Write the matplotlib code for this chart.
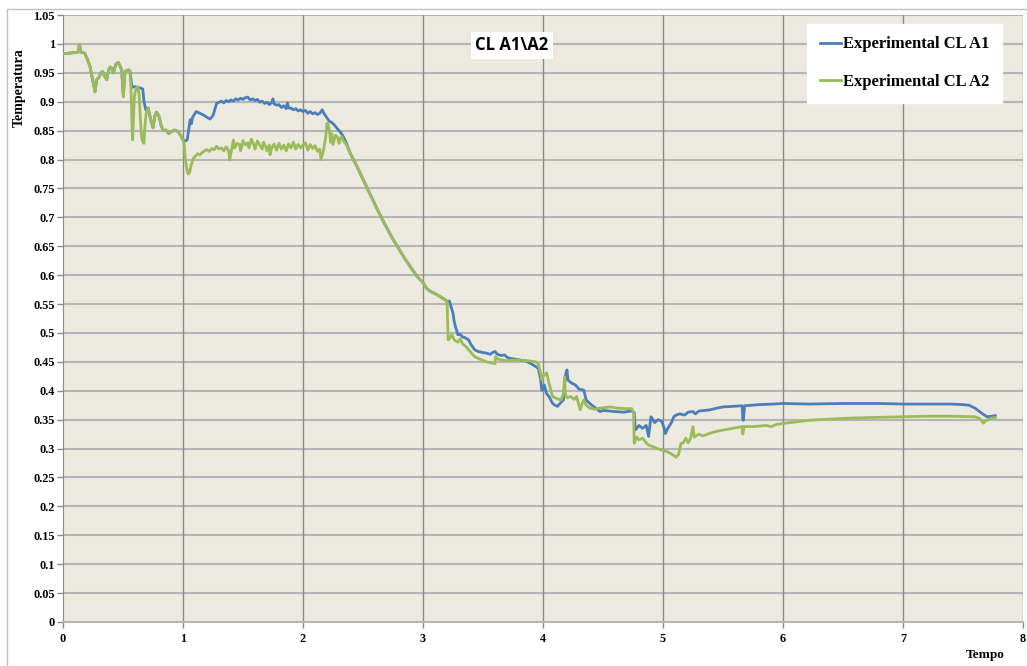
import matplotlib
matplotlib.use("Agg")
import matplotlib.pyplot as plt
from matplotlib.patches import Rectangle

# ---------------- data ----------------
shared_start = [
    (0.0, 0.983), (0.05, 0.984), (0.1, 0.985), (0.128, 0.986), (0.135, 0.998), (0.14, 0.998),
    (0.145, 0.986), (0.18, 0.984), (0.2, 0.975), (0.225, 0.961), (0.25, 0.935), (0.267, 0.917),
    (0.28, 0.938), (0.3, 0.942), (0.315, 0.950), (0.33, 0.952), (0.345, 0.945), (0.364, 0.938),
    (0.38, 0.955), (0.395, 0.960), (0.405, 0.958), (0.42, 0.950), (0.44, 0.965), (0.461, 0.968),
    (0.475, 0.962), (0.489, 0.955), (0.495, 0.935), (0.503, 0.909), (0.51, 0.935), (0.517, 0.952),
    (0.53, 0.954), (0.545, 0.955), (0.558, 0.953),
]

blue_early = [
    (0.575, 0.925), (0.6, 0.926), (0.64, 0.924), (0.665, 0.922), (0.675, 0.90), (0.69, 0.886),
]

shared_mid = [
    (0.71, 0.889), (0.73, 0.87), (0.75, 0.855), (0.765, 0.875), (0.78, 0.882), (0.8, 0.875),
    (0.82, 0.857), (0.84, 0.85), (0.86, 0.851), (0.88, 0.845), (0.9, 0.848), (0.93, 0.851),
    (0.96, 0.848), (0.98, 0.842), (1.0, 0.834),
]

green_early = [
    (0.567, 0.92), (0.575, 0.86), (0.58, 0.834), (0.585, 0.86), (0.595, 0.91), (0.61, 0.924),
    (0.625, 0.925), (0.635, 0.91), (0.645, 0.87), (0.655, 0.84), (0.665, 0.83), (0.675, 0.828),
    (0.68, 0.85), (0.69, 0.875), (0.7, 0.886),
]

blue_plateau = [
    (1.02, 0.832), (1.035, 0.834), (1.05, 0.855), (1.06, 0.869), (1.07, 0.862), (1.08, 0.873),
    (1.11, 0.883), (1.14, 0.880), (1.17, 0.877), (1.2, 0.873), (1.225, 0.870), (1.25, 0.876),
    (1.28, 0.897), (1.3, 0.899), (1.32, 0.901), (1.34, 0.898), (1.36, 0.902), (1.38, 0.900),
    (1.4, 0.903), (1.42, 0.901), (1.44, 0.905), (1.46, 0.903), (1.48, 0.906), (1.5, 0.904),
    (1.52, 0.907), (1.54, 0.908), (1.56, 0.903), (1.58, 0.905), (1.6, 0.902), (1.62, 0.904),
    (1.64, 0.899), (1.66, 0.901), (1.68, 0.897), (1.7, 0.899), (1.72, 0.895), (1.74, 0.899),
    (1.75, 0.905), (1.76, 0.896), (1.78, 0.894), (1.8, 0.895), (1.82, 0.890), (1.84, 0.893),
    (1.86, 0.888), (1.87, 0.898), (1.88, 0.889), (1.9, 0.889), (1.92, 0.886), (1.94, 0.888),
    (1.96, 0.884), (1.98, 0.886), (2.0, 0.883), (2.02, 0.885), (2.04, 0.880), (2.06, 0.883),
    (2.08, 0.879), (2.1, 0.881), (2.12, 0.878), (2.14, 0.880), (2.16, 0.886), (2.18, 0.878),
    (2.2, 0.872), (2.22, 0.866), (2.24, 0.864), (2.26, 0.860), (2.28, 0.855), (2.3, 0.850),
    (2.32, 0.845), (2.34, 0.838), (2.36, 0.829), (2.38, 0.818),
]

green_plateau = [
    (1.01, 0.825), (1.02, 0.80), (1.035, 0.78), (1.044, 0.775), (1.055, 0.778), (1.07, 0.792),
    (1.086, 0.802), (1.1, 0.805), (1.12, 0.81), (1.14, 0.808), (1.16, 0.812), (1.18, 0.815),
    (1.2, 0.817), (1.22, 0.814), (1.24, 0.819), (1.26, 0.817), (1.28, 0.823), (1.3, 0.818),
    (1.32, 0.82), (1.34, 0.815), (1.36, 0.822), (1.38, 0.815), (1.39, 0.799), (1.4, 0.812),
    (1.42, 0.834), (1.43, 0.82), (1.45, 0.828), (1.47, 0.826), (1.48, 0.815), (1.5, 0.833),
    (1.52, 0.825), (1.54, 0.829), (1.55, 0.82), (1.57, 0.835), (1.59, 0.826), (1.6, 0.818),
    (1.62, 0.832), (1.64, 0.825), (1.66, 0.818), (1.67, 0.83), (1.69, 0.822), (1.7, 0.815),
    (1.72, 0.825), (1.725, 0.808), (1.74, 0.82), (1.76, 0.827), (1.78, 0.816), (1.8, 0.828),
    (1.82, 0.818), (1.84, 0.825), (1.86, 0.815), (1.88, 0.827), (1.9, 0.82), (1.92, 0.83),
    (1.94, 0.818), (1.96, 0.826), (1.98, 0.82), (2.0, 0.825), (2.02, 0.829), (2.04, 0.816),
    (2.06, 0.826), (2.08, 0.819), (2.1, 0.824), (2.12, 0.814), (2.14, 0.818), (2.15, 0.80),
    (2.17, 0.815), (2.19, 0.84), (2.2, 0.863), (2.21, 0.86), (2.22, 0.85), (2.23, 0.83),
    (2.24, 0.845), (2.25, 0.826), (2.27, 0.842), (2.29, 0.838), (2.3, 0.828), (2.32, 0.84),
    (2.34, 0.832), (2.36, 0.826), (2.38, 0.818),
]

shared_descent = [
    (2.4, 0.808), (2.45, 0.788), (2.5, 0.766), (2.55, 0.744), (2.6, 0.722), (2.65, 0.701),
    (2.7, 0.681), (2.75, 0.662), (2.8, 0.645), (2.85, 0.628), (2.9, 0.613), (2.95, 0.598),
    (3.0, 0.587), (3.03, 0.577), (3.06, 0.572), (3.1, 0.568), (3.15, 0.562), (3.2, 0.555),
]

blue_late = [
    (3.22, 0.555), (3.23, 0.548), (3.25, 0.534), (3.26, 0.52), (3.27, 0.511), (3.28, 0.505),
    (3.29, 0.497), (3.31, 0.498), (3.33, 0.493), (3.35, 0.492), (3.38, 0.488), (3.4, 0.48),
    (3.43, 0.471), (3.46, 0.468), (3.5, 0.466), (3.53, 0.465), (3.56, 0.463), (3.58, 0.466),
    (3.6, 0.468), (3.62, 0.463), (3.65, 0.461), (3.68, 0.462), (3.7, 0.458), (3.725, 0.456),
    (3.76, 0.455), (3.81, 0.453), (3.85, 0.452), (3.89, 0.448), (3.93, 0.443), (3.96, 0.439),
    (3.98, 0.42), (3.99, 0.401), (4.01, 0.41), (4.03, 0.395), (4.05, 0.39), (4.08, 0.378),
    (4.1, 0.375), (4.12, 0.373), (4.15, 0.38), (4.17, 0.384), (4.18, 0.41), (4.19, 0.43),
    (4.2, 0.436), (4.205, 0.425), (4.21, 0.418), (4.24, 0.413), (4.27, 0.41), (4.3, 0.403),
    (4.34, 0.401), (4.36, 0.384), (4.39, 0.378), (4.42, 0.373), (4.45, 0.368), (4.475, 0.364),
    (4.5, 0.366), (4.55, 0.365), (4.6, 0.364), (4.67, 0.363), (4.74, 0.365), (4.76, 0.362),
    (4.77, 0.332), (4.8, 0.34), (4.83, 0.335), (4.86, 0.34), (4.88, 0.321), (4.9, 0.355),
    (4.91, 0.352), (4.93, 0.345), (4.96, 0.35), (4.99, 0.347), (5.01, 0.335), (5.02, 0.326),
    (5.04, 0.335), (5.07, 0.345), (5.09, 0.355), (5.11, 0.358), (5.14, 0.36), (5.18, 0.358),
    (5.21, 0.363), (5.25, 0.364), (5.27, 0.36), (5.3, 0.365), (5.35, 0.366), (5.39, 0.367),
    (5.45, 0.370), (5.5, 0.372), (5.58, 0.373), (5.66, 0.374), (5.665, 0.35), (5.67, 0.349),
    (5.68, 0.374), (5.8, 0.376), (5.92, 0.377), (6.0, 0.378), (6.22, 0.377), (6.5, 0.378),
    (6.8, 0.378), (7.0, 0.377), (7.2, 0.377), (7.4, 0.377), (7.5, 0.376), (7.55, 0.375),
    (7.6, 0.370), (7.65, 0.362), (7.7, 0.355), (7.74, 0.356), (7.77, 0.357),
]

green_late = [
    (3.205, 0.52), (3.21, 0.488), (3.22, 0.49), (3.24, 0.497), (3.26, 0.488), (3.29, 0.484),
    (3.31, 0.49), (3.33, 0.481), (3.36, 0.476), (3.4, 0.466), (3.43, 0.459), (3.47, 0.455),
    (3.53, 0.450), (3.57, 0.448), (3.6, 0.447), (3.605, 0.459), (3.62, 0.455), (3.66, 0.453),
    (3.7, 0.452), (3.75, 0.453), (3.81, 0.453), (3.87, 0.452), (3.94, 0.450), (3.96, 0.447),
    (3.98, 0.43), (3.99, 0.419), (4.0, 0.425), (4.03, 0.431), (4.05, 0.413), (4.08, 0.39),
    (4.12, 0.386), (4.15, 0.384), (4.17, 0.395), (4.18, 0.424), (4.185, 0.395), (4.2, 0.388),
    (4.23, 0.39), (4.26, 0.385), (4.28, 0.39), (4.31, 0.367), (4.33, 0.38), (4.34, 0.384),
    (4.36, 0.375), (4.39, 0.37), (4.43, 0.368), (4.475, 0.37), (4.52, 0.371), (4.56, 0.372),
    (4.62, 0.370), (4.7, 0.369), (4.74, 0.369), (4.755, 0.36), (4.76, 0.309), (4.78, 0.32),
    (4.8, 0.315), (4.83, 0.318), (4.86, 0.310), (4.88, 0.306), (4.92, 0.303), (4.95, 0.300),
    (4.98, 0.298), (5.03, 0.295), (5.06, 0.292), (5.09, 0.288), (5.11, 0.285), (5.13, 0.29),
    (5.15, 0.309), (5.17, 0.31), (5.19, 0.318), (5.21, 0.31), (5.23, 0.318), (5.25, 0.338),
    (5.26, 0.32), (5.3, 0.325), (5.33, 0.322), (5.36, 0.324), (5.4, 0.327), (5.45, 0.33),
    (5.5, 0.332), (5.58, 0.335), (5.66, 0.338), (5.665, 0.325), (5.675, 0.338), (5.75, 0.338),
    (5.86, 0.34), (5.9, 0.338), (5.95, 0.342), (6.06, 0.345), (6.22, 0.349), (6.4, 0.351),
    (6.6, 0.353), (6.8, 0.354), (7.0, 0.355), (7.2, 0.356), (7.4, 0.356), (7.6, 0.355),
    (7.64, 0.352), (7.67, 0.344), (7.69, 0.348), (7.73, 0.352), (7.77, 0.354),
]

series_a1 = shared_start + blue_early + shared_mid + blue_plateau + shared_descent + blue_late
series_a2 = shared_start + green_early + shared_mid + green_plateau + shared_descent + green_late

t_a1 = [p[0] for p in series_a1]
y_a1 = [p[1] for p in series_a1]
t_a2 = [p[0] for p in series_a2]
y_a2 = [p[1] for p in series_a2]

label_a1 = "Experimental CL A1"
label_a2 = "Experimental CL A2"
title_text = "CL A1\\A2"
x_ticks = [0, 1, 2, 3, 4, 5, 6, 7, 8]
y_ticks = [round(0.05 * i, 2) for i in range(22)]
y_tick_labels = ["0", "0.05", "0.1", "0.15", "0.2", "0.25", "0.3", "0.35", "0.4", "0.45", "0.5",
                 "0.55", "0.6", "0.65", "0.7", "0.75", "0.8", "0.85", "0.9", "0.95", "1", "1.05"]

# ---------------- figure ----------------
W, H = 1027, 666
fig = plt.figure(figsize=(W / 100, H / 100), dpi=100)
fig.patch.set_facecolor("white")

# outer chart frame
fig.add_artist(Rectangle((7 / W, -0.02), 1.05, 1 - 9 / H + 0.02, transform=fig.transFigure,
                         fill=False, edgecolor="#c0c0c0", linewidth=1.0))

ax = fig.add_axes([63 / W, 1 - 622 / H, (1023 - 63) / W, (622 - 15) / H])
ax.set_facecolor("#ece9df")

ax.set_xlim(0, 8)
ax.set_ylim(0, 1.05)
ax.set_xticks(x_ticks)
ax.set_xticklabels([str(v) for v in x_ticks])
ax.set_yticks(y_ticks)
ax.set_yticklabels(y_tick_labels)

for yv in y_ticks[1:]:
    ax.axhline(yv, color="#b5b5b5", linewidth=1.5, zorder=1)
for xv in x_ticks[1:]:
    ax.axvline(xv, color="#8a8a8a", linewidth=1.0, zorder=1)

for s in ["top", "right"]:
    ax.spines[s].set_visible(False)
ax.spines["left"].set_color("#8a8a8a")
ax.spines["bottom"].set_color("#b5b5b5")
ax.spines["bottom"].set_linewidth(1.5)

ax.tick_params(axis="both", colors="#8a8a8a", length=4, width=1, labelcolor="black")
ax.tick_params(axis="x", pad=4)
ax.tick_params(axis="y", pad=2)

for lbl in ax.get_xticklabels() + ax.get_yticklabels():
    lbl.set_fontfamily("Liberation Serif")
    lbl.set_fontweight("bold")
    lbl.set_fontsize(8.8)

ax.plot(t_a1, y_a1, color="#4a7ebb", linewidth=2.0, label=label_a1, zorder=3,
        solid_joinstyle="round")
ax.plot(t_a2, y_a2, color="#9bbb59", linewidth=2.0, label=label_a2, zorder=4,
        solid_joinstyle="round")

fig.text(19 / W, 1 - 88 / H, "Temperatura", rotation=90, ha="center", va="center",
         family="Liberation Serif", weight="bold", size=10)
fig.text(985 / W, 1 - 655 / H, "Tempo", ha="center", va="center",
         family="Liberation Serif", weight="bold", size=9.5)

ax.text(512 / W, 1 - 45.5 / H, title_text, transform=fig.transFigure, ha="center", va="center",
        family="Open Sans", weight="bold", size=12, zorder=6,
        bbox=dict(boxstyle="square,pad=0.25", facecolor="white", edgecolor="none"))

leg = ax.legend(loc="upper right", bbox_to_anchor=(1002 / W, 1 - 24 / H),
                bbox_transform=fig.transFigure, frameon=True, fancybox=False,
                facecolor="white", edgecolor="white", framealpha=1.0,
                prop=dict(family="Liberation Serif", weight="bold", size=12),
                handlelength=1.3, handletextpad=0.1, labelspacing=1.3, borderpad=0.75,
                borderaxespad=0)
leg.set_zorder(7)

fig.savefig("out.png", dpi=100, facecolor="white")
